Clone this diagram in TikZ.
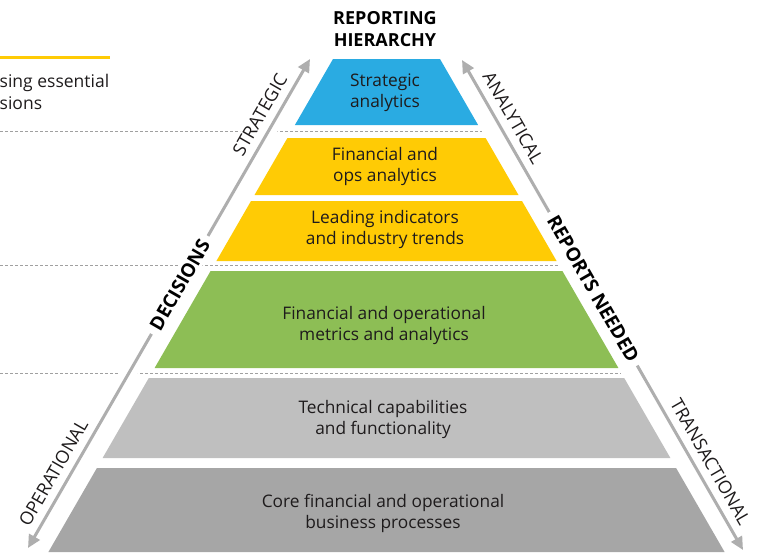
\documentclass[tikz,border=0pt]{standalone}
\usepackage{fontspec}
\setmainfont{Open Sans}
\usetikzlibrary{arrows.meta}
\definecolor{cblue}{HTML}{2AABE2}
\definecolor{cyellow}{HTML}{FFCB05}
\definecolor{cgreen}{HTML}{8DBE55}
\definecolor{clgray}{HTML}{BFBFBF}
\definecolor{cdgray}{HTML}{A6A6A6}
\definecolor{carrow}{HTML}{AEAEAE}
\definecolor{cdash}{HTML}{A0A0A0}
\definecolor{ctext}{HTML}{1E1B1C}
\begin{document}
\begin{tikzpicture}[x=1pt,y=-1pt,
  body/.style={align=center, text=ctext, font=\fontsize{17.3}{21}\selectfont, inner sep=0pt},
  dashline/.style={cdash, line width=0.7pt, dash pattern=on 3pt off 2pt},
  arr/.style={carrow, line width=3pt, {Triangle[length=13pt,width=12pt]}-{Triangle[length=13pt,width=12pt]}},
  halo/.style={white, line width=16pt},
  lab/.style={sloped, above=5.5pt, fill=white, inner sep=2pt, text=ctext, font=\fontsize{18}{20}\selectfont},
  boldlab/.style={sloped, fill=white, inner xsep=6pt, inner ysep=3pt, text=black, font=\fontsize{19}{22}\selectfont\bfseries}]
\useasboundingbox (0,0) rectangle (765,552);

% dashed guide lines
\draw[dashline] (0,131) coordinate (d1a) -- (481.6,131) coordinate (d1b);
\draw[dashline] (0,265) coordinate (d2a) -- (558.9,265) coordinate (d2b);
\draw[dashline] (0,373) coordinate (d3a) -- (621.3,373) coordinate (d3b);

% top-left fragment
\draw[cyellow, line width=3pt] (0,57) coordinate (ya) -- (110,57) coordinate (yb);
\node[anchor=west, text=ctext, font=\fontsize{17.5}{20}\selectfont, inner sep=0pt] (frag1) at (-0.5,83) {sing essential};
\node[anchor=west, text=ctext, font=\fontsize{17.5}{20}\selectfont, inner sep=0pt] (frag2) at (-0.5,103) {sions};

% pyramid layers
\fill[cblue]   (333,59) -- (440,59) -- (478.1,125) -- (294.9,125) -- cycle;
\fill[cyellow] (287.4,138) -- (485.6,138) -- (518.5,195) -- (254.5,195) -- cycle;
\fill[cyellow] (251.0,201) -- (522.0,201) -- (556.6,261) -- (216.4,261) -- cycle;
\fill[cgreen]  (210.6,271) -- (562.4,271) -- (618.4,368) -- (154.6,368) -- cycle;
\fill[clgray]  (148.8,378) -- (624.2,378) -- (670.4,458) -- (102.6,458) -- cycle;
\fill[cdgray]  (96.9,468) -- (676.1,468) -- (724.6,552) -- (48.4,552) -- cycle;

\node[body] (t1) at (385,93) {Strategic\\analytics};
\node[body] (t2) at (385,167) {Financial and\\ops analytics};
\node[body] (t3) at (385,230) {Leading indicators\\and industry trends};
\node[body] (t4) at (384,325) {Financial and operational\\metrics and analytics};
\node[body] (t5) at (383,419) {Technical capabilities\\and functionality};
\node[body] (t6) at (383,513) {Core financial and operational\\business processes};

% title
\node[align=center, text=black, font=\fontsize{18}{22}\selectfont\bfseries, inner sep=0pt] (title) at (385,29.5) {REPORTING\\HIERARCHY};

% left arrow
\draw[halo] (28,548) coordinate (la) -- (310,59) coordinate (lb);
\draw[arr] (la) -- (lb)
  node[lab, pos=0.138] (oper) {OPERATIONAL}
  node[lab, pos=0.870] (strat) {STRATEGIC}
  node[boldlab, pos=0.538] (dec) {DECISIONS};

% right arrow
\draw[halo] (462,60) coordinate (ra) -- (743,550) coordinate (rb);
\draw[arr] (ra) -- (rb)
  node[lab, pos=0.134] (anal) {ANALYTICAL}
  node[lab, pos=0.836] (trans) {TRANSACTIONAL}
  node[boldlab, pos=0.467] (rep) {REPORTS NEEDED};
\end{tikzpicture}
\end{document}
